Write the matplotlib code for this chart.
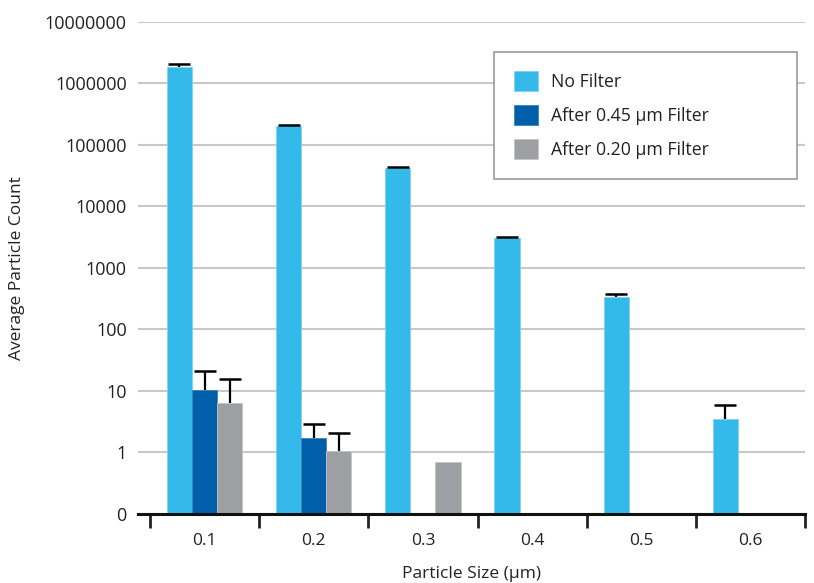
import numpy as np
import matplotlib
matplotlib.use("Agg")
import matplotlib.pyplot as plt
from matplotlib.patches import Rectangle
from matplotlib.ticker import FixedLocator, NullFormatter

plt.rcParams['font.family'] = ['Open Sans', 'DejaVu Sans']

sizes = ["0.1", "0.2", "0.3", "0.4", "0.5", "0.6"]
no_filter = [1.85e6, 2.04e5, 4.2e4, 3.1e3, 340, 3.45]
no_filter_err = [2.2e5, 6e3, 1.5e3, 60, 35, 2.4]
filter_045 = [10.4, 1.7, np.nan, np.nan, np.nan, np.nan]
filter_045_err = [10.6, 1.2, 0, 0, 0, 0]
filter_020 = [6.3, 1.06, 0.70, np.nan, np.nan, np.nan]
filter_020_err = [9.4, 1.04, 0, 0, 0, 0]

ytick_vals = [0.1, 1, 10, 100, 1000, 10000, 100000, 1000000, 10000000]
ytick_labels = ["0", "1", "10", "100", "1000", "10000", "100000", "1000000", "10000000"]

colors = ["#33BAEB", "#005EAA", "#9D9FA2"]
edge_colors = ["#7FD3F2", "#3A82C0", "#C4C5C7"]
labels = ["No Filter", "After 0.45 \u00b5m Filter", "After 0.20 \u00b5m Filter"]

fig = plt.figure(figsize=(8.14, 5.83), dpi=100)
ax = fig.add_axes([0.1695, 0.1184, 0.8195, 0.8439])

ymin = 0.1
x = np.arange(len(sizes))
w = 0.23
series = [(no_filter, no_filter_err), (filter_045, filter_045_err), (filter_020, filter_020_err)]
for i, (vals, errs) in enumerate(series):
    pos = x + (i - 1) * w
    vals = np.array(vals, dtype=float)
    errs = np.array(errs, dtype=float)
    ax.bar(pos, vals - ymin, width=w, bottom=ymin, color=colors[i], label=labels[i],
           edgecolor=edge_colors[i], linewidth=0.6, zorder=3)
    # upper error bars only
    mask = ~np.isnan(vals) & (errs > 0)
    tops = vals[mask] + errs[mask]
    ax.vlines(pos[mask], vals[mask], tops, color="black", linewidth=1.6, zorder=4)
    ax.plot(pos[mask], tops, linestyle="none", marker="_", markersize=16,
            markeredgewidth=1.8, color="black", zorder=4)

ax.set_yscale("log")
ax.set_ylim(ymin, 1e7)
ax.set_xlim(-0.61, 5.5)
ax.yaxis.set_major_locator(FixedLocator(ytick_vals))
ax.set_yticklabels(ytick_labels)
ax.yaxis.set_minor_locator(FixedLocator([]))
ax.yaxis.set_minor_formatter(NullFormatter())
ax.grid(axis="y", color="#C8C8C8", linewidth=1.5, zorder=0)
ax.set_axisbelow(True)

ax.set_xticks(x)
ax.set_xticklabels(sizes)
ax.xaxis.set_minor_locator(FixedLocator(np.arange(-0.5, 5.6, 1.0)))
ax.tick_params(axis="x", which="major", length=0, pad=14, labelsize=12.5, labelcolor="#222222")
ax.tick_params(axis="x", which="minor", length=10, width=2, direction="out", color="#222222")
ax.tick_params(axis="y", length=0, pad=8, labelsize=13, labelcolor="#222222")

for s in ["left", "right", "top"]:
    ax.spines[s].set_visible(False)
ax.spines["bottom"].set_linewidth(2.2)
ax.spines["bottom"].set_color("#111111")
ax.spines["bottom"].set_zorder(5)

ax.set_xlabel("Particle Size (\u00b5m)", fontsize=12.5, color="#222222", labelpad=12)
ax.set_ylabel("Average Particle Count", fontsize=12.5, color="#222222", labelpad=14)

# legend box
box = Rectangle((0.534, 0.681), 0.454, 0.258, transform=ax.transAxes,
                facecolor="white", edgecolor="#999999", linewidth=1.2, zorder=5)
ax.add_patch(box)
leg = ax.legend(loc="upper left", bbox_to_anchor=(0.534, 0.939), borderaxespad=0,
                fontsize=12.7, frameon=False, handlelength=1.4,
                handleheight=1.3, labelspacing=0.82, borderpad=1.1, handletextpad=0.7)
leg.set_zorder(6)
for t in leg.get_texts():
    t.set_color("#222222")

fig.savefig("out.png", dpi=100)
